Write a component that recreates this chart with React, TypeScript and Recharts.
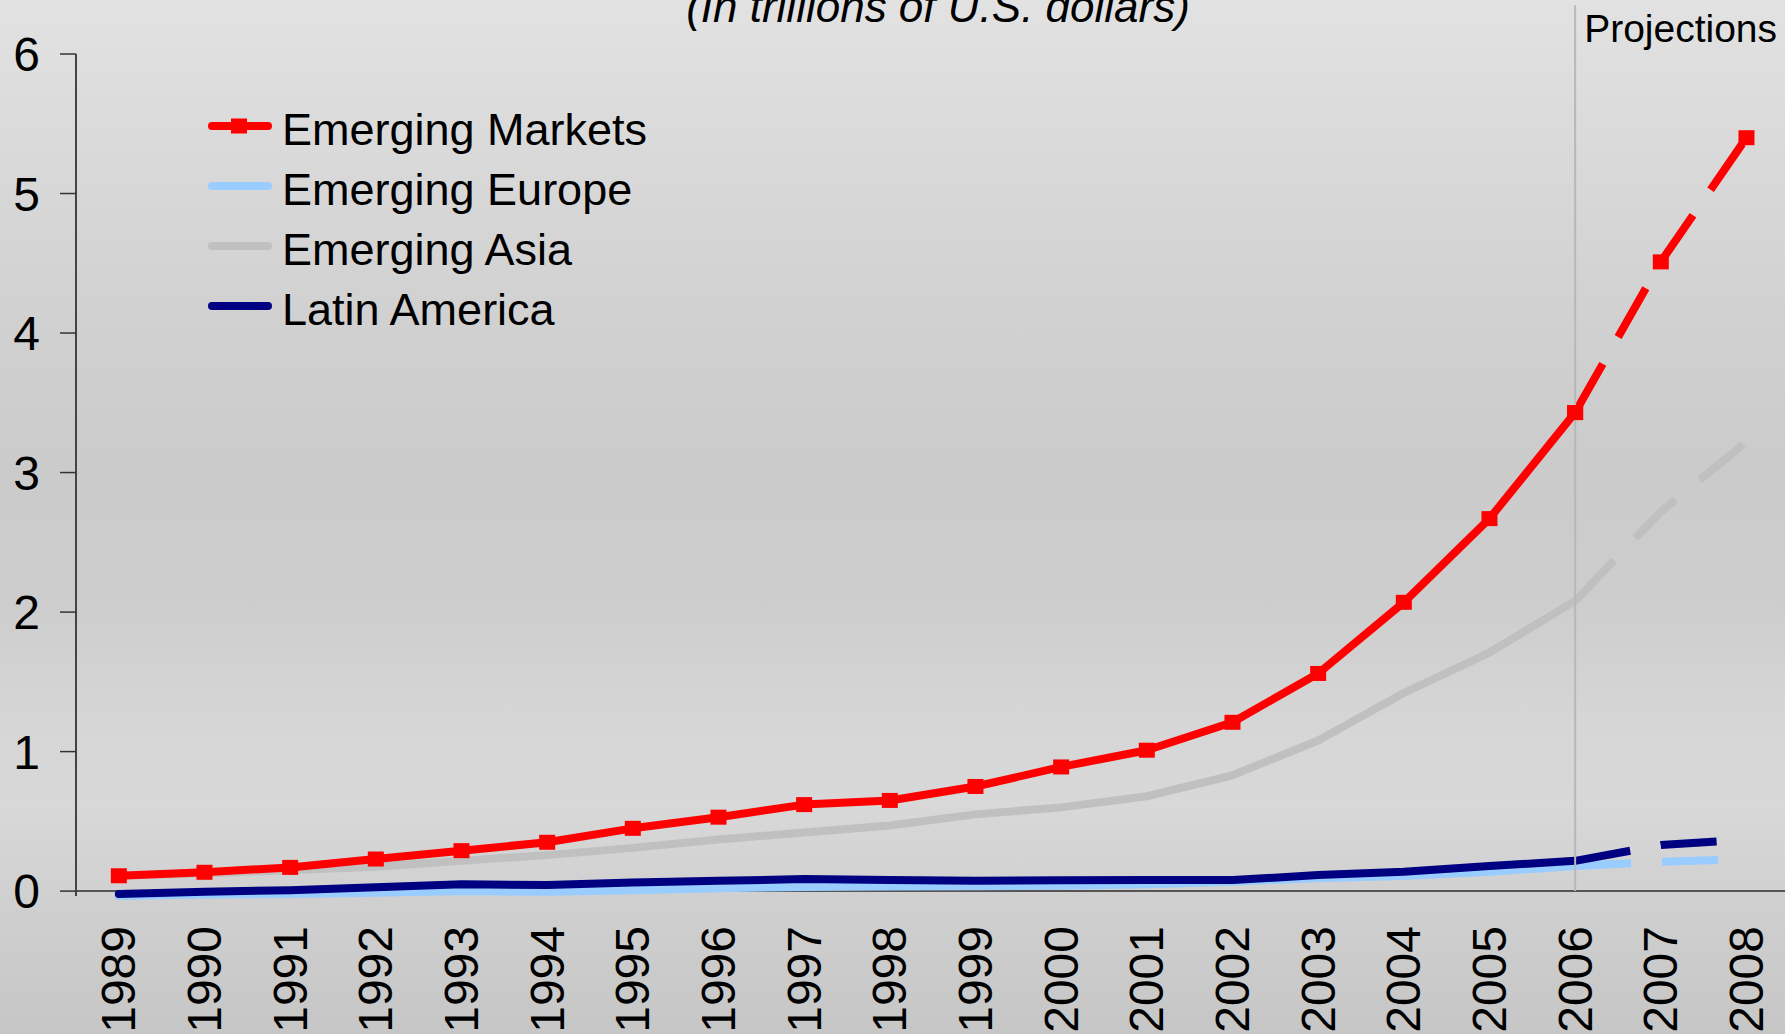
import React from 'react';
import { LineChart, Line, XAxis, YAxis, ReferenceLine, Legend } from 'recharts';

const years = ['1989', '1990', '1991', '1992', '1993', '1994', '1995', '1996', '1997', '1998', '1999', '2000', '2001', '2002', '2003', '2004', '2005', '2006', '2007', '2008'];
const emergingMarkets = [0.11, 0.135, 0.17, 0.23, 0.29, 0.35, 0.45, 0.53, 0.62, 0.65, 0.75, 0.89, 1.01, 1.21, 1.56, 2.07, 2.67, 3.43, 4.51, 5.4];
const emergingEurope = [-0.035, -0.025, -0.02, -0.012, 0.0, -0.005, 0.007, 0.02, 0.03, 0.033, 0.035, 0.038, 0.05, 0.067, 0.093, 0.108, 0.138, 0.18, 0.21, 0.23];
const emergingAsia = [0.11, 0.127, 0.15, 0.175, 0.217, 0.258, 0.31, 0.37, 0.42, 0.47, 0.55, 0.6, 0.68, 0.83, 1.08, 1.42, 1.71, 2.08, 2.72, 3.22];
const latinAmerica = [-0.02, -0.005, 0.007, 0.027, 0.05, 0.043, 0.062, 0.074, 0.086, 0.079, 0.074, 0.077, 0.079, 0.079, 0.115, 0.138, 0.18, 0.217, 0.33, 0.37];
const yTicks = [0, 1, 2, 3, 4, 5, 6];
const boundaryTicks = years.map((_, i) => i).concat([years.length]);
const lastActualYear = '2006';
const titleText = '(In trillions of U.S. dollars)';
const projectionText = 'Projections';

const FONT = "'Liberation Sans', Arial, Helvetica, sans-serif";

type SeriesDef = { key: string; name: string; values: number[]; color: string; marker: boolean };

// draw order (back to front)
const seriesDefs: SeriesDef[] = [
  { key: 'europe', name: 'Emerging Europe', values: emergingEurope, color: '#99CCFF', marker: false },
  { key: 'asia', name: 'Emerging Asia', values: emergingAsia, color: '#C0C0C0', marker: false },
  { key: 'latin', name: 'Latin America', values: latinAmerica, color: '#000080', marker: false },
  { key: 'markets', name: 'Emerging Markets', values: emergingMarkets, color: '#FF0000', marker: true },
];
const legendOrder = ['Emerging Markets', 'Emerging Europe', 'Emerging Asia', 'Latin America'];

const splitIndex = years.indexOf(lastActualYear);
const data = years.map((year, i) => {
  const row: Record<string, any> = { year };
  seriesDefs.forEach((s) => {
    row[s.key] = i <= splitIndex ? s.values[i] : null;
    row[s.key + 'Proj'] = i >= splitIndex ? s.values[i] : null;
  });
  return row;
});

const SquareDot = (props: any) => {
  const { cx, cy, index, dataKey } = props;
  const k = `${dataKey}-${index}`;
  if (cx == null || cy == null || isNaN(cx) || isNaN(cy)) return <g key={k} />;
  return <rect key={k} x={cx - 8} y={cy - 7.5} width={16} height={15} fill="#FF0000" />;
};

const YearTick = (props: any) => {
  const { x, y, payload } = props;
  return (
    <text
      x={x}
      y={y}
      transform={`rotate(-90 ${x} ${y})`}
      textAnchor="end"
      dominantBaseline="central"
      fontSize={48}
      fontFamily={FONT}
      fill="#000"
    >
      {payload.value}
    </text>
  );
};

const renderLegend = (props: any) => {
  const payload: any[] = props.payload || [];
  const seen = new Set<string>();
  const items = payload
    .filter((p) => {
      if (!legendOrder.includes(p.value) || seen.has(p.value)) return false;
      seen.add(p.value);
      return true;
    })
    .sort((a, b) => legendOrder.indexOf(a.value) - legendOrder.indexOf(b.value));
  return (
    <svg width={480} height={240} style={{ overflow: 'visible', display: 'block' }}>
      {items.map((item, i) => {
        const def = seriesDefs.find((s) => s.name === item.value);
        const cy = 30 + i * 60;
        return (
          <g key={item.value}>
            <line x1={16} x2={72} y1={cy} y2={cy} stroke={def?.color || item.color} strokeWidth={8} strokeLinecap="round" />
            {def?.marker && <rect x={35} y={cy - 7.5} width={16} height={15} fill={def.color} />}
            <text x={86} y={cy + 19} fontSize={45} fontFamily={FONT} fill="#000">
              {item.value}
            </text>
          </g>
        );
      })}
    </svg>
  );
};

const ProjectionLabel = (props: any) => {
  const vb = props.viewBox || {};
  return (
    <text x={(vb.x || 0) + 9} y={(vb.y || 0) + 37} fontSize={39} fontFamily={FONT} fill="#000">
      {projectionText}
    </text>
  );
};

export default function App() {
  return (
    <div
      style={{
        position: 'fixed',
        left: 0,
        top: 0,
        width: 1785,
        height: 1034,
        overflow: 'hidden',
        fontFamily: FONT,
        background:
          'linear-gradient(180deg, #e2e2e2 0%, #dcdcdc 10%, #d2d2d2 28%, #cbcbcb 45%, #cdcdcd 58%, #d6d6d6 70%, #d8d8d8 78%, #cfcfcf 88%, #c6c6c6 100%)',
      }}
    >
      <LineChart
        width={1800}
        height={1034}
        data={data}
        margin={{ top: 54, right: 10.7, left: 0, bottom: 0 }}
      >
        <XAxis
          xAxisId="edge"
          type="number"
          domain={[0, years.length]}
          ticks={boundaryTicks}
          allowDataOverflow
          interval={0}
          height={1}
          tick={false}
          tickSize={9}
          axisLine={false}
          tickLine={{ stroke: '#333', strokeWidth: 1.5 }}
        />
        <XAxis
          xAxisId="cat"
          dataKey="year"
          type="category"
          scale="band"
          interval={0}
          height={137}
          tick={<YearTick />}
          tickLine={false}
          axisLine={false}
          tickSize={8}
          tickMargin={22}
        />
        <YAxis
          type="number"
          domain={['dataMin', 6]}
          ticks={yTicks}
          interval={0}
          width={76}
          tickSize={16}
          tickMargin={20}
          tick={{ fill: '#000', fontSize: 48, fontFamily: FONT }}
          tickLine={{ stroke: '#333', strokeWidth: 1.5 }}
          axisLine={{ stroke: '#444', strokeWidth: 2 }}
        />
        <Legend
          content={renderLegend}
          layout="vertical"
          align="center"
          verticalAlign="middle"
          wrapperStyle={{ position: 'absolute', left: 196, top: 96, width: 480, height: 240 }}
        />
        <ReferenceLine y={0} xAxisId="cat" stroke="#555" strokeWidth={2} />
        {seriesDefs.map((s) => (
          <Line
            key={s.key}
            xAxisId="cat"
            dataKey={s.key}
            name={s.name}
            stroke={s.color}
            strokeWidth={8}
            strokeLinecap="round"
            strokeLinejoin="round"
            dot={s.marker ? SquareDot : false}
            activeDot={false}
            isAnimationActive={false}
            connectNulls={false}
          />
        ))}
        {seriesDefs.map((s) => (
          <Line
            key={s.key + 'Proj'}
            xAxisId="cat"
            dataKey={s.key + 'Proj'}
            name={s.name}
            legendType="none"
            stroke={s.color}
            strokeWidth={8}
            strokeDasharray="56 31"
            dot={s.marker ? SquareDot : false}
            activeDot={false}
            isAnimationActive={false}
            connectNulls={false}
          />
        ))}
        <ReferenceLine
          xAxisId="cat"
          segment={[{ x: lastActualYear, y: 6.35 }, { x: lastActualYear, y: 0 }]}
          ifOverflow="visible"
          stroke="#b8b8b8"
          strokeWidth={2}
          label={ProjectionLabel}
        />
      </LineChart>
      <svg
        width={1785}
        height={1034}
        style={{ position: 'absolute', left: 0, top: 0, pointerEvents: 'none' }}
      >
        <text x={938} y={22} textAnchor="middle" fontSize={44} fontStyle="italic" fontFamily={FONT} fill="#000">
          {titleText}
        </text>
      </svg>
    </div>
  );
}
